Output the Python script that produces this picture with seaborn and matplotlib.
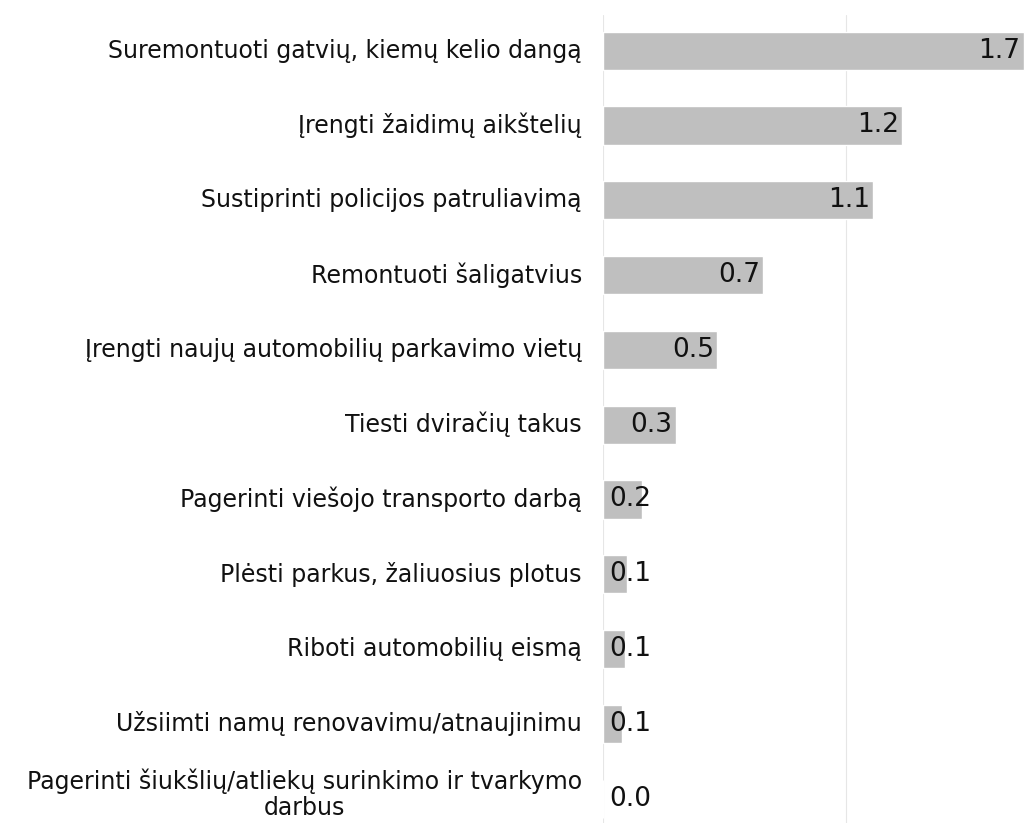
import matplotlib
matplotlib.use("Agg")
import matplotlib.pyplot as plt
import seaborn as sns
import pandas as pd

categories = [
    "Suremontuoti gatvių, kiemų kelio dangą",
    "Įrengti žaidimų aikštelių",
    "Sustiprinti policijos patruliavimą",
    "Remontuoti šaligatvius",
    "Įrengti naujų automobilių parkavimo vietų",
    "Tiesti dviračių takus",
    "Pagerinti viešojo transporto darbą",
    "Plėsti parkus, žaliuosius plotus",
    "Riboti automobilių eismą",
    "Užsiimti namų renovavimu/atnaujinimu",
    "Pagerinti šiukšlių/atliekų surinkimo ir tvarkymo\ndarbus",
]
values = [1.73, 1.23, 1.11, 0.66, 0.47, 0.30, 0.16, 0.10, 0.09, 0.08, 0.0]
value_labels = ["1.7", "1.2", "1.1", "0.7", "0.5", "0.3", "0.2", "0.1", "0.1", "0.1", "0.0"]

df = pd.DataFrame({"category": categories, "value": values})

sns.set_theme(style="white")
plt.rcParams["font.family"] = ["DejaVu Sans"]

fig = plt.figure(figsize=(10.25, 8.23), dpi=100)
ax = fig.add_axes([0.588, 0.0, 0.412, 0.9818])

sns.barplot(data=df, x="value", y="category", order=categories, color="#bfbfbf",
            saturation=1, width=0.51, ax=ax, orient="h", zorder=2)

ax.set_xticks([0, 1, 2])
ax.set_xticklabels([])
ax.set_xlim(0, 1.736)
ax.set_ylim(10.325, -0.477)
ax.xaxis.grid(True, color="#e6e6e6", linewidth=0.8, zorder=0)
ax.set_axisbelow(True)
for s in ax.spines.values():
    s.set_visible(False)
ax.set_xlabel("")
ax.set_ylabel("")
ax.set_yticklabels([])
ax.tick_params(axis="y", length=0)
ax.tick_params(axis="x", length=0)

# category labels
for i, cat in enumerate(categories):
    dy = 3.5 if "\n" in cat else 0
    ax.annotate(cat, xy=(0, i), xytext=(-15, dy), textcoords="offset points",
                ha="right", va="center", multialignment="center",
                fontsize=17, color="#111111", linespacing=1.1,
                annotation_clip=False)

# value labels
for i, (v, lab) in enumerate(zip(values, value_labels)):
    ax.annotate(lab, xy=(max(v, 0.214), i), xytext=(-2.2, 0), textcoords="offset points",
                ha="right", va="center", fontsize=19, color="#111111", zorder=3)

fig.savefig("out.png", dpi=100)
